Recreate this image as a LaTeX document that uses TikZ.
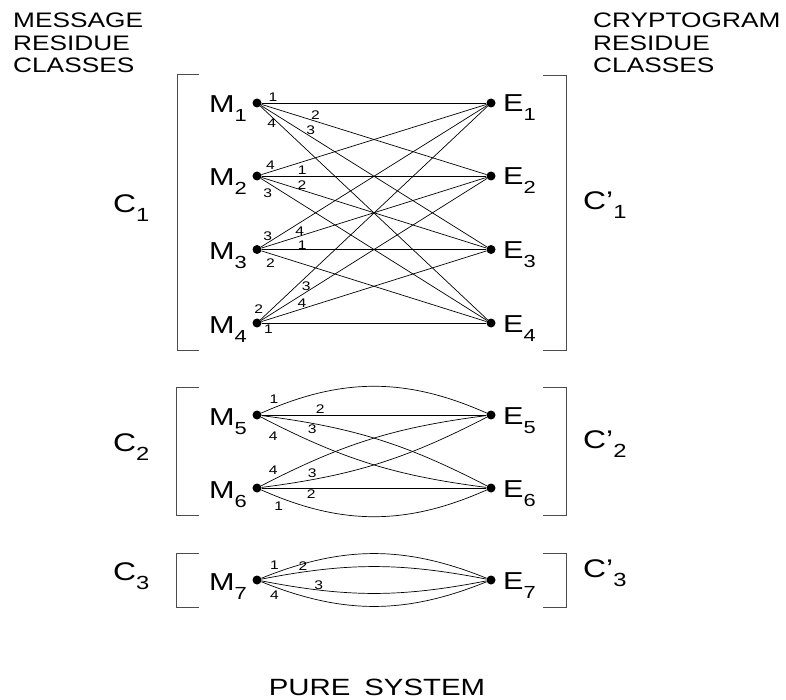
\documentclass[tikz,border=0pt]{standalone}
\usepackage{fontspec}
\setmainfont{Liberation Sans}[FakeStretch=1.25]
\newcommand\sub[2][17.5]{\raisebox{-9pt}{\fontsize{#1}{#1}\selectfont #2}}
\tikzset{
  dot/.style={circle,fill,inner sep=0pt,minimum size=9pt},
  mtxt/.style={anchor=base east,inner sep=0pt,xshift=-10pt,yshift=-10pt,font=\fontsize{24.5}{25}\selectfont},
  etxt/.style={anchor=base west,inner sep=0pt,xshift=12pt,yshift=-9pt,font=\fontsize{24.5}{25}\selectfont},
  ctxt/.style={anchor=base west,inner sep=0pt,font=\fontsize{25.5}{26}\selectfont},
  hdr/.style={anchor=north west,inner sep=0pt,align=left,font=\fontsize{21}{22.5}\selectfont},
  num/.style={inner sep=1.5pt,font=\fontsize{12.5}{13}\selectfont},
  wire/.style={line width=.7pt},
  brack/.style={line width=1pt,black!70},
}
\begin{document}
\begin{tikzpicture}[x=1pt,y=1pt]
\useasboundingbox (0,0) rectangle (786,-700);
\node[hdr] (msg) at (13,-13) {MESSAGE\\RESIDUE\\CLASSES};
\node[hdr] (cry) at (593,-13) {CRYPTOGRAM\\RESIDUE\\CLASSES};

\node[dot] (M1) at (257,-103) {};   \node[dot] (E1) at (491,-103) {};
\node[dot] (M2) at (257,-176) {};   \node[dot] (E2) at (491,-176) {};
\node[dot] (M3) at (257,-249.5) {}; \node[dot] (E3) at (491,-249.5) {};
\node[dot] (M4) at (257,-323) {};   \node[dot] (E4) at (491,-323) {};
\node[dot] (M5) at (257,-415) {};   \node[dot] (E5) at (491,-415) {};
\node[dot] (M6) at (257,-488) {};   \node[dot] (E6) at (491,-488) {};
\node[dot] (M7) at (257,-580) {};   \node[dot] (E7) at (491,-580) {};

\node[mtxt] (tM1) at (M1) {M\sub{1}}; \node[etxt] (tE1) at (E1) {E\sub{1}};
\node[mtxt] (tM2) at (M2) {M\sub{2}}; \node[etxt] (tE2) at (E2) {E\sub{2}};
\node[mtxt] (tM3) at (M3) {M\sub{3}}; \node[etxt] (tE3) at (E3) {E\sub{3}};
\node[mtxt] (tM4) at (M4) {M\sub{4}}; \node[etxt] (tE4) at (E4) {E\sub{4}};
\node[mtxt] (tM5) at (M5) {M\sub{5}}; \node[etxt] (tE5) at (E5) {E\sub{5}};
\node[mtxt] (tM6) at (M6) {M\sub{6}}; \node[etxt] (tE6) at (E6) {E\sub{6}};
\node[mtxt] (tM7) at (M7) {M\sub{7}}; \node[etxt] (tE7) at (E7) {E\sub{7}};

\node[ctxt] (C1) at (113,-213) {C\sub[19]{1}};
\node[ctxt] (C1p) at (583,-210) {C'\sub[19]{1}};
\node[ctxt] (C2) at (113,-451.5) {C\sub[19]{2}};
\node[ctxt] (C2p) at (583,-448.5) {C'\sub[19]{2}};
\node[ctxt] (C3) at (113,-580) {C\sub[19]{3}};
\node[ctxt] (C3p) at (583,-577) {C'\sub[19]{3}};

\draw[brack] (199,-75) -- (177,-75) -- (177,-350) -- (199,-350);
\draw[brack] (543,-76) -- (566,-76) -- (566,-350) -- (543,-350);
\draw[brack] (199,-387) -- (176,-387) -- (176,-515) -- (199,-515);
\draw[brack] (543,-387) -- (566,-387) -- (566,-515) -- (543,-515);
\draw[brack] (199,-553) -- (176,-553) -- (176,-607) -- (199,-607);
\draw[brack] (543,-553) -- (566,-553) -- (566,-607) -- (543,-607);

\draw[wire] (M1) -- (E1) node[num,pos=.05,above]{1};
\draw[wire] (M1) -- (E2) node[num,pos=.24,above]{2};
\draw[wire] (M1) -- (E3) node[num,pos=.22,above]{3};
\draw[wire] (M1) -- (E4) node[num,pos=.05,below]{4};
\draw[wire] (M2) -- (E1) node[num,pos=.04,above]{4};
\draw[wire] (M2) -- (E2) node[num,pos=.18,above]{1};
\draw[wire] (M2) -- (E3) node[num,pos=.18,above,inner sep=0pt]{2};
\draw[wire] (M2) -- (E4) node[num,pos=.03,below=4pt]{3};
\draw[wire] (M3) -- (E1) node[num,pos=.03,above]{3};
\draw[wire] (M3) -- (E2) node[num,pos=.17,above,inner sep=0pt]{4};
\draw[wire] (M3) -- (E3) node[num,pos=.18,above,inner sep=0pt]{1};
\draw[wire] (M3) -- (E4) node[num,pos=.04,below=3pt]{2};
\draw[wire] (M4) -- (E1) node[num,pos=.02,above left]{2};
\draw[wire] (M4) -- (E2) node[num,pos=.2,above]{3};
\draw[wire] (M4) -- (E3) node[num,pos=.18,above]{4};
\draw[wire] (M4) -- (E4) node[num,pos=.03,below]{1};

\draw[wire] (M5) to[bend left=24] node[num,pos=.08,above left]{1} (E5);
\draw[wire] (M5) -- (E5) node[num,pos=.26,above]{2};
\draw[wire] (M5) to[bend left=10] node[num,pos=.2,below]{3} (E6);
\draw[wire] (M5) to[bend right=10] node[num,pos=.05,below=7pt]{4} (E6);
\draw[wire] (M6) to[bend left=10] node[num,pos=.05,above=3pt]{4} (E5);
\draw[wire] (M6) to[bend right=10] node[num,pos=.2,above]{3} (E5);
\draw[wire] (M6) -- (E6) node[num,pos=.22,below]{2};
\draw[wire] (M6) to[bend right=24] node[num,pos=.1,below left]{1} (E6);

\draw[wire] (M7) to[bend left=22] node[num,pos=.08,above left]{1} (E7);
\draw[wire] (M7) to[bend left=11] node[num,pos=.17,above]{2} (E7);
\draw[wire] (M7) to[bend right=11] node[num,pos=.24,above,inner sep=0pt]{3} (E7);
\draw[wire] (M7) to[bend right=22] node[num,pos=.08,below left]{4} (E7);

\node[anchor=base,inner sep=0pt,font=\fontsize{23.5}{24}\selectfont] (title) at (377,-695) {PURE\hspace{14pt}SYSTEM};
\end{tikzpicture}
\end{document}
